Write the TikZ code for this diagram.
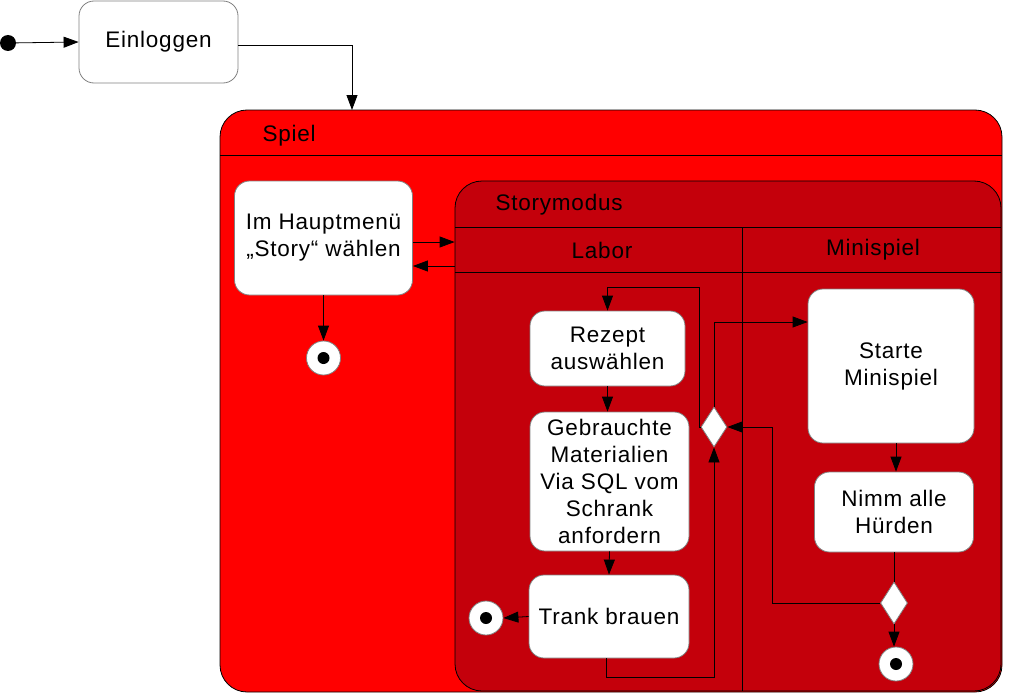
\documentclass[tikz,border=0pt]{standalone}
\usepackage{fontspec}
\setmainfont[LetterSpace=3.5]{Liberation Sans}
\usetikzlibrary{arrows.meta,shapes.geometric}

\definecolor{spielcolor}{rgb}{1.000000, 0.000000, 0.000000}
\definecolor{storycolor}{rgb}{0.768627, 0.000000, 0.043137}
\definecolor{boxlinecolor}{rgb}{0.500000, 0.500000, 0.500000}

\begin{document}
\begin{tikzpicture}[x=1pt,y=-1pt,
  every node/.style={font=\fontsize{22.5}{27}\selectfont},
  container/.style={draw=black,line width=0.8pt,rounded corners=27pt,inner sep=0pt},
  activity/.style={draw=boxlinecolor,fill=white,line width=0.8pt,rounded corners=15pt,
    align=center,inner sep=2pt},
  decision/.style={diamond,draw=boxlinecolor,fill=white,line width=0.8pt,inner sep=0pt},
  endstate/.style={circle,draw=boxlinecolor,fill=white,line width=0.8pt,minimum size=34pt,
    inner sep=0pt,path picture={\fill[black] (path picture bounding box.center) circle (6pt);}},
  arr/.style={draw=black,line width=0.8pt,-{Triangle[length=15pt,width=11pt]}},
  con/.style={draw=black,line width=0.8pt}]
\useasboundingbox (0,0) rectangle (1025,693);

% containers
\node[container,fill=spielcolor,minimum width=782pt,minimum height=582pt] (spiel) at (611,401) {};
\draw[con] (220,155) -- (1002,155);
\node[anchor=west] (spiellabel) at (259,136) {Spiel};
\node[container,fill=storycolor,minimum width=546pt,minimum height=510pt] (story) at (728,436) {};
\draw[con] (455,227) -- (1001,227);
\draw[con] (455,272) -- (1001,272);
\draw[con] (742,227) -- (742,691);
\node[anchor=west] (storylabel) at (492,205) {Storymodus};
\node (laborlabel) at (602,250) {Labor};
\node (minilabel) at (873,250) {Minispiel};

% start and login
\node[circle,fill=black,minimum size=16pt,inner sep=0pt] (start) at (8,43) {};
\node[activity,minimum width=159pt,minimum height=82pt] (einloggen) at (158.5,42) {Einloggen};
\coordinate (spieltop) at (352,110);

% main menu
\node[activity,minimum width=178pt,minimum height=114pt] (haupt) at (323.5,238) {Im Hauptmenü\\„Story“ wählen};
\node[endstate] (endmain) at (323.5,358) {};

% lane Labor
\node[activity,minimum width=155pt,minimum height=75pt] (rezept) at (607.5,348.5) {Rezept\\auswählen};
\node[activity,minimum width=159pt,minimum height=139pt] (gebraucht) at (609.5,481.5) {Gebrauchte\\Materialien\\Via SQL vom\\Schrank\\anfordern};
\node[activity,minimum width=160pt,minimum height=83pt] (trank) at (609,616.5) {Trank brauen};
\node[endstate] (endlabor) at (486,618) {};
\node[decision,minimum width=26pt,minimum height=40pt] (merge) at (714,427) {};

% lane Minispiel
\node[activity,minimum width=166pt,minimum height=154pt] (starte) at (891,366) {Starte\\Minispiel};
\node[activity,minimum width=159pt,minimum height=80pt] (nimm) at (894,512) {Nimm alle\\Hürden};
\node[decision,minimum width=27pt,minimum height=42pt] (check) at (894,603) {};
\node[endstate] (endmini) at (896,664) {};

% connectors
\coordinate (loopbottom) at (714,677);
\coordinate (loopleft) at (699,287);
\coordinate (backright) at (772,427);
\draw[arr] (start) -- (einloggen.west);
\draw[arr] ([yshift=-3pt]einloggen.east) -| (spieltop);
\draw[arr] ([yshift=-4pt]haupt.east) -- ([yshift=-4pt]haupt.east -| story.west);
\draw[arr] ([yshift=-28pt]haupt.east -| story.west) -- ([yshift=-28pt]haupt.east);
\draw[arr] (haupt.south) -- (endmain.north);
\draw[arr] (rezept.south) -- (rezept.south |- gebraucht.north);
\draw[arr] (gebraucht.south) -- (trank.north);
\draw[arr] (trank.west) -- (endlabor.east);
\draw[arr] ([xshift=-3pt]trank.south) |- (loopbottom) -- (merge.south);
\draw[arr] (merge.west) -| (loopleft) -| (rezept.north);
\draw[arr] (merge.north) |- ([yshift=44pt]starte.west);
\draw[arr] ([xshift=5pt]starte.south) -- ([xshift=5pt]starte.south |- nimm.north);
\draw[con] (nimm.south) -- (check.north);
\draw[arr] (check.south) -- (check.south |- endmini.north);
\draw[arr] (check.west) -| (backright) -- (merge.east);
\end{tikzpicture}
\end{document}
